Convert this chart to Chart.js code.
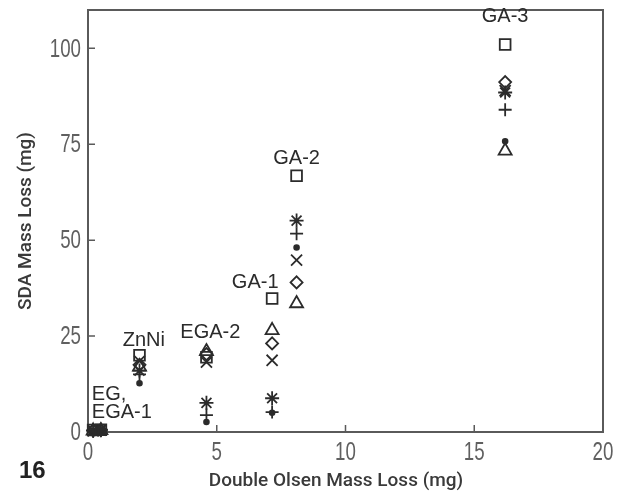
<!DOCTYPE html>
<html>
<head>
<meta charset="utf-8">
<script src="https://cdn.jsdelivr.net/npm/chart.js@4.4.1/dist/chart.umd.min.js"></script>
<style>
  html, body { margin: 0; padding: 0; background: #fff; }
  canvas { display: block; }
</style>
</head>
<body>
<canvas id="graph" width="622" height="494"></canvas>
<script>
// coatings (x = double Olsen mass loss, mg)
const categories = ['EG', 'EGA-1', 'ZnNi', 'EGA-2', 'GA-1', 'GA-2', 'GA-3'];
const doubleOlsen = [0.2, 0.5, 2.0, 4.6, 7.15, 8.1, 16.2];

// SDA mass loss (mg), one array per plotting symbol
const squareY   = [0.5, 0.6, 20.0, 19.5, 34.8, 66.8, 101.0];
const triangleY = [0.3, 0.4, 17.0, 21.0, 26.5, 33.5, 73.3];
const diamondY  = [0.4, 0.5, 17.5, 20.3, 23.1, 39.0, 91.2];
const xmarkY    = [0.3, 0.5, 18.5, 18.2, 18.7, 44.8, 89.0];
const starY     = [0.4, 0.6, 16.0, 7.6, 8.8, 55.1, 88.5];
const plusY     = [0.2, 0.3, 15.0, 4.4, 5.2, 51.7, 84.0];
const dotY      = [0.1, 0.2, 12.7, 2.6, 5.0, 48.1, 75.8];

const xTicks = [0, 5, 10, 15, 20];
const yTicks = [0, 25, 50, 75, 100];

// group labels written on the plot
const noteText = ['GA-3', 'GA-2', 'GA-1', 'EGA-2', 'ZnNi', 'EG,', 'EGA-1'];
const noteX    = [16.2, 8.1, 7.4, 4.75, 2.17, 0.15, 0.15];
const noteY    = [108.3, 71.3, 39.0, 26.0, 23.8, 9.9, 5.2];
const noteAlign = ['center', 'center', 'right', 'center', 'center', 'left', 'left'];

const ink = '#2b2b2b';
const axisGray = '#5a5a5a';

function pts(ys) {
  return doubleOlsen.map((x, i) => ({x: x, y: ys[i]}));
}
function series(label, ys, style, r, filled) {
  return {
    label: label,
    data: pts(ys),
    pointStyle: style,
    pointRadius: r,
    pointHoverRadius: r,
    pointBorderWidth: 1.8,
    pointBorderColor: ink,
    pointBackgroundColor: filled ? ink : 'rgba(255,255,255,0)',
    showLine: false,
    clip: false
  };
}

// narrow tick numbers, like the original's condensed face
function narrowText(c, txt, x, y, align) {
  const sx = 0.72;
  const w = c.measureText(txt).width * sx;
  let left = x;
  if (align === 'center') left = x - w / 2;
  if (align === 'right') left = x - w;
  c.save();
  c.translate(left, y);
  c.scale(sx, 1);
  c.textAlign = 'left';
  c.fillText(txt, 0, 0);
  c.restore();
}

const extras = {
  id: 'extras',
  afterDraw(chart) {
    const c = chart.ctx;
    const a = chart.chartArea;
    const xs = chart.scales.x, ys = chart.scales.y;
    c.save();
    // frame top + right
    c.strokeStyle = axisGray;
    c.lineWidth = 2;
    c.beginPath();
    c.moveTo(a.left, a.top);
    c.lineTo(a.right, a.top);
    c.lineTo(a.right, a.bottom);
    c.stroke();
    // inward ticks
    c.lineWidth = 1.5;
    c.beginPath();
    ys.ticks.forEach(t => {
      if (t.value === 0) return;
      const py = ys.getPixelForValue(t.value);
      c.moveTo(a.left, py); c.lineTo(a.left + 7, py);
    });
    xs.ticks.forEach(t => {
      if (t.value === 0 || t.value === 20) return;
      const px = xs.getPixelForValue(t.value);
      c.moveTo(px, a.bottom); c.lineTo(px, a.bottom - 7);
    });
    c.stroke();
    // tick labels
    c.fillStyle = '#606060';
    c.font = "26px 'Liberation Sans', Arial, sans-serif";
    c.textBaseline = 'middle';
    ys.ticks.forEach(t => {
      narrowText(c, String(t.value), a.left - 7, ys.getPixelForValue(t.value) + 1, 'right');
    });
    xs.ticks.forEach(t => {
      narrowText(c, String(t.value), xs.getPixelForValue(t.value), a.bottom + 21, 'center');
    });
    // group labels
    c.fillStyle = ink;
    c.font = "20px 'Liberation Sans', Arial, sans-serif";
    noteText.forEach((t, i) => {
      c.textAlign = noteAlign[i];
      c.fillText(t, xs.getPixelForValue(noteX[i]), ys.getPixelForValue(noteY[i]));
    });
    // axis titles
    c.fillStyle = '#3a3a3a';
    c.font = "500 19px Roboto, 'Liberation Sans', sans-serif";
    c.textAlign = 'center';
    c.fillText('Double Olsen Mass Loss (mg)', 336, 481);
    c.save();
    c.translate(26, 221);
    c.rotate(-Math.PI / 2);
    c.fillText('SDA Mass Loss (mg)', 0, 0);
    c.restore();
    c.fillStyle = '#222';
    c.font = "bold 24px 'Liberation Sans', Arial, sans-serif";
    c.textAlign = 'left';
    c.fillText('16', 19, 471);
    c.restore();
  }
};

new Chart('graph', {
  type: 'scatter',
  data: {
    datasets: [
      series('square', squareY, 'rect', 7.6, false),
      series('triangle', triangleY, 'triangle', 7.5, false),
      series('diamond', diamondY, 'rectRot', 6, false),
      series('x', xmarkY, 'crossRot', 7.8, false),
      series('asterisk', starY, 'star', 7, false),
      series('plus', plusY, 'cross', 6.5, false),
      series('dot', dotY, 'circle', 2.4, true)
    ]
  },
  options: {
    responsive: false,
    animation: false,
    devicePixelRatio: 1,
    layout: {padding: {left: 0, top: 10, right: 19, bottom: 0}},
    plugins: {legend: {display: false}, tooltip: {enabled: false}},
    scales: {
      x: {
        type: 'linear', min: 0, max: 20,
        afterBuildTicks: s => { s.ticks = xTicks.map(v => ({value: v})); },
        afterFit: s => { s.height = 62; },
        grid: {display: false, drawTicks: false},
        border: {display: true, color: axisGray, width: 2},
        ticks: {display: false}
      },
      y: {
        type: 'linear', min: 0, max: 110,
        afterBuildTicks: s => { s.ticks = yTicks.map(v => ({value: v})); },
        afterFit: s => { s.width = 88; },
        grid: {display: false, drawTicks: false},
        border: {display: true, color: axisGray, width: 2},
        ticks: {display: false}
      }
    }
  },
  plugins: [extras]
});
</script>
</body>
</html>
